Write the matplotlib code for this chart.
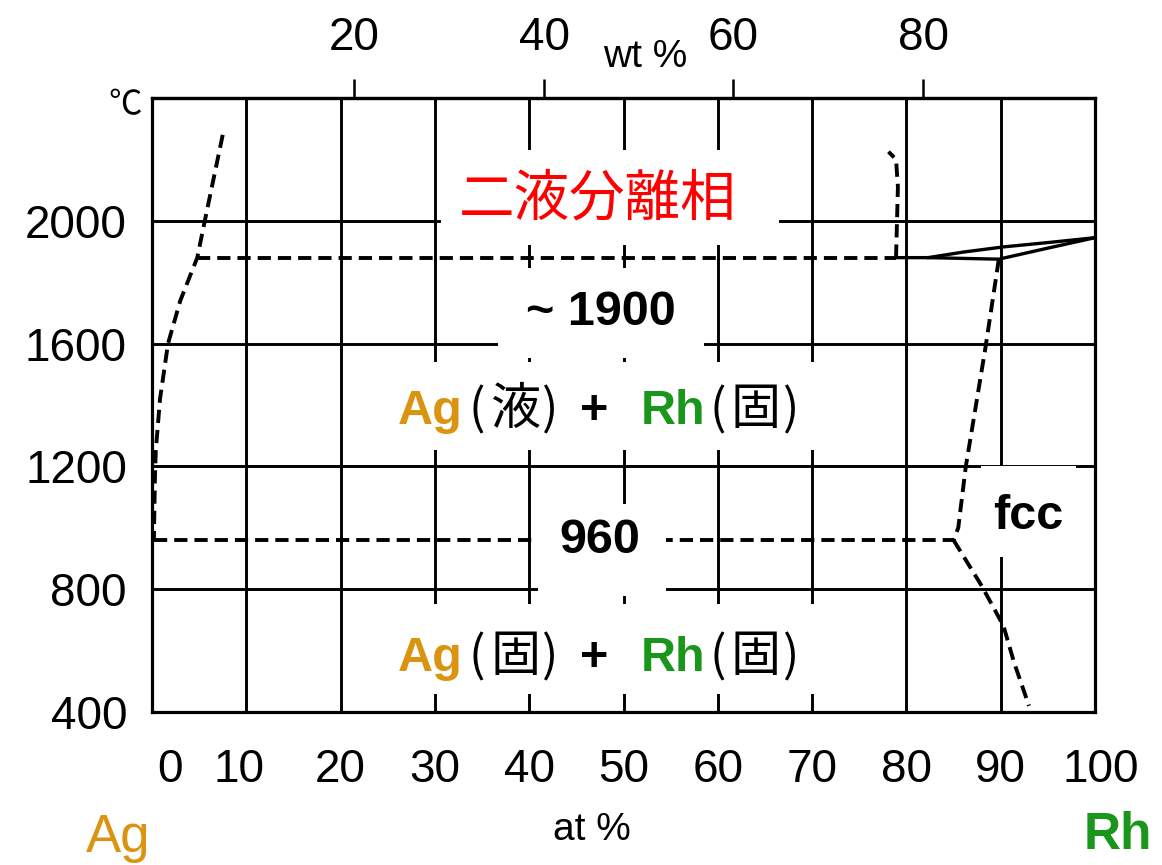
import matplotlib
matplotlib.use('Agg')
import matplotlib.pyplot as plt
import matplotlib.transforms as mtransforms
from matplotlib.patches import Rectangle

plt.rcParams['font.family'] = ['Liberation Sans', 'Noto Sans CJK JP', 'DejaVu Sans']

AG_COLOR = '#DA9410'
RH_COLOR = '#1A961A'
CJK = ['Noto Sans CJK JP']

# Ag-Rh phase diagram data (at % Rh, temperature in deg C)
left_liq_x = [7.5, 5.6, 4.8, 3.0, 1.7, 0.85, 0.4, 0.3, 0.2]
left_liq_T = [2280, 2000, 1880, 1740, 1600, 1420, 1250, 1150, 960]

monotectic_T = 1880
monotectic_x = [4.8, 78.9]

miscibility_x = [78.9, 79.1, 78.9, 78.1]
miscibility_T = [1880, 2110, 2200, 2225]

liquidus_x = [78.9, 82.3, 86.0, 90.3, 95.3, 100.0]
liquidus_T = [1880, 1880, 1898, 1915, 1930, 1945]
solidus_x = [82.3, 89.8, 95.0, 100.0]
solidus_T = [1880, 1875, 1911, 1945]

solvus_hi_x = [89.8, 88.4, 86.6, 86.3, 85.5, 85.0]
solvus_hi_T = [1875, 1590, 1255, 1200, 1000, 960]
solvus_lo_x = [85.0, 88.0, 90.3, 91.4, 93.0]
solvus_lo_T = [960, 810, 680, 563, 420]

eutectic_T = 960
eutectic_x = [0.2, 85.0]

at_ticks = [0, 10, 20, 30, 40, 50, 60, 70, 80, 90, 100]
T_ticks = [400, 800, 1200, 1600, 2000]
wt_labels = ['20', '40', '60', '80']
wt_pos = [21.4, 41.6, 61.6, 81.8]   # wt % marks expressed in at %

fig = plt.figure(figsize=(11.62, 8.65), dpi=100)
ax = fig.add_axes([152 / 1162, 1 - 712 / 865, 943 / 1162, 614 / 865])
ax.set_xlim(0, 100)
ax.set_ylim(400, 2400)

# grid and frame
ax.set_xticks(at_ticks)
ax.set_yticks(T_ticks)
ax.set_xticklabels([str(v) for v in at_ticks])
ax.grid(True, color='black', lw=2.1)
ax.set_axisbelow(True)
for s in ax.spines.values():
    s.set_linewidth(2.3)
ax.tick_params(axis='both', length=0, labelsize=33)
ax.tick_params(axis='x', pad=26)
ax.tick_params(axis='y', pad=18)

# nudge a few crowded bottom labels
shifts = {0: 18, 10: -7, 100: 6}
for val, lab in zip(at_ticks, ax.get_xticklabels()):
    if val in shifts:
        lab.set_transform(lab.get_transform() +
                          mtransforms.ScaledTranslation(shifts[val] / 100, 0, fig.dpi_scale_trans))

# wt % scale on top
sec = ax.secondary_xaxis('top')
sec.set_xticks(wt_pos)
sec.set_xticklabels(wt_labels)
sec.tick_params(direction='out', length=14, width=1.8, labelsize=33, pad=13)
sec.spines['top'].set_linewidth(2.3)

dash = dict(color='black', lw=2.8, ls=(0, (3.4, 1.8)), zorder=2)
ax.plot(left_liq_x, left_liq_T, **dash)
ax.plot(monotectic_x, [monotectic_T] * 2, **dash)
ax.plot(miscibility_x, miscibility_T, **dash)
ax.plot(solvus_hi_x, solvus_hi_T, **dash)
ax.plot(solvus_lo_x, solvus_lo_T, **dash)
ax.plot(eutectic_x, [eutectic_T] * 2, **dash)
ax.plot(liquidus_x, liquidus_T, color='black', lw=2.4, zorder=2)
ax.plot(solidus_x, solidus_T, color='black', lw=2.4, zorder=2)

# white backing behind the labels
boxes = [
    (30.6, 1922, 66.5, 2231),
    (36.7, 1554, 58.5, 1847),
    (25.3, 1255, 73.0, 1541),
    (40.9, 777, 54.5, 1076),
    (25.3, 459, 73.0, 751),
    (87.9, 904, 98.0, 1200),
]
for x0, y0, x1, y1 in boxes:
    ax.add_patch(Rectangle((x0, y0), x1 - x0, y1 - y0, facecolor='white',
                           edgecolor='none', zorder=3))

ax.text(47.3, 2068, '二液分離相', color='red', fontsize=40, ha='center', va='center',
        family=CJK, zorder=5)
ax.text(47.6, 1701, '~ 1900', fontsize=35, fontweight='bold', ha='center', va='center', zorder=5)
ax.text(47.5, eutectic_T, '960', fontsize=35, fontweight='bold', ha='center', va='center', zorder=5)
ax.text(92.9, 1037, 'fcc', fontsize=35, fontweight='bold', ha='center', va='center', zorder=5)


def state(x_open, x_char, x_close, y, ch):
    # bracketed phase state, e.g. (液)
    ax.text(x_open, y, '(', fontsize=35, va='baseline', family=CJK, zorder=5)
    ax.text(x_char, y, ch, fontsize=36, va='baseline', family=CJK, zorder=5)
    ax.text(x_close, y, ')', fontsize=35, va='baseline', family=CJK, zorder=5)


def phase_row(y, ag_state, rh_state):
    ax.text(26.1, y, 'Ag', color=AG_COLOR, fontsize=35, fontweight='bold', va='baseline', zorder=5)
    state(33.55, 35.88, 41.3, y, ag_state)
    ax.text(45.4, y, '+', fontsize=35, fontweight='bold', va='baseline', zorder=5)
    ax.text(51.8, y, 'Rh', color=RH_COLOR, fontsize=35, fontweight='bold', va='baseline', zorder=5)
    state(59.13, 61.36, 66.77, y, rh_state)


phase_row(1337, '液', '固')
phase_row(533, '固', '固')

fig.text(0.1076, 0.878, '℃', fontsize=24, ha='center', va='center')
fig.text(0.555, 0.934, 'wt %', fontsize=28, ha='center', va='center')
fig.text(0.5095, 0.040, 'at %', fontsize=28, ha='center', va='center')
fig.text(0.1015, 0.031, 'Ag', color=AG_COLOR, fontsize=38, ha='center', va='center')
fig.text(0.962, 0.034, 'Rh', color=RH_COLOR, fontsize=37, fontweight='bold', ha='center', va='center')

fig.savefig('out.png', dpi=100, facecolor='white')
